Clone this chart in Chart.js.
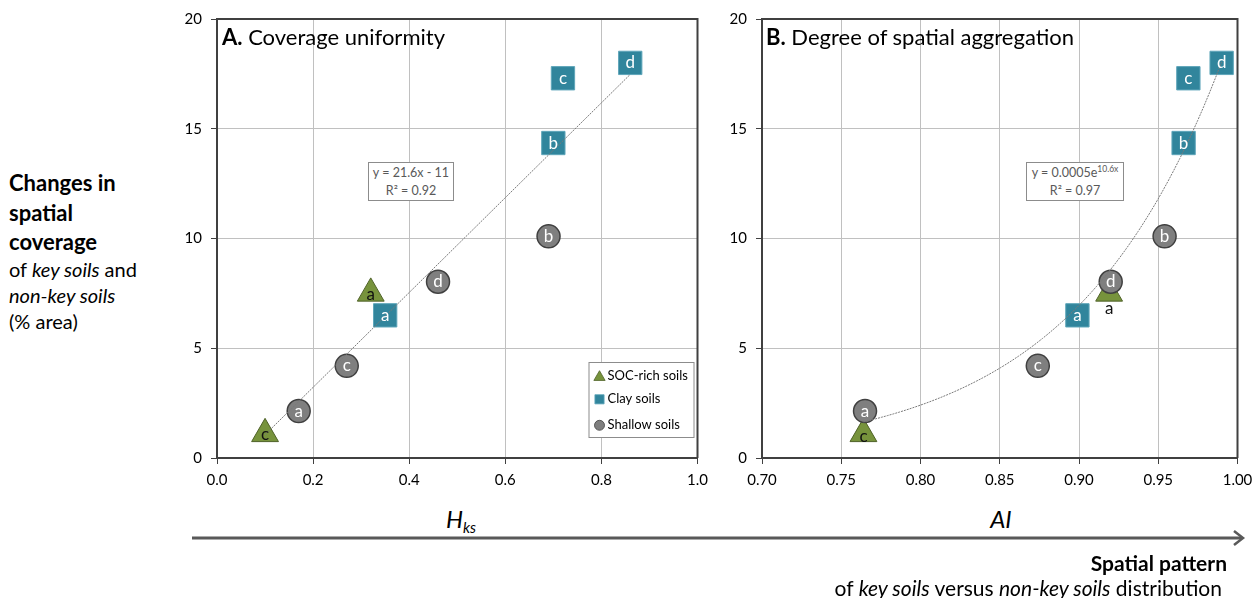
<!DOCTYPE html>
<html>
<head>
<meta charset="utf-8">
<script src="https://cdn.jsdelivr.net/npm/chart.js@4.4.0/dist/chart.umd.min.js"></script>
<style>
  html, body { margin: 0; padding: 0; background: #fff; }
  body { width: 1253px; height: 598px; position: relative; overflow: hidden;
         font-family: Lato, "Open Sans", sans-serif; color: #000; }
  .panel { position: absolute; top: 0; height: 500px; }
  #wrapA { left: 140px; width: 575px; }
  #wrapB { left: 690px; width: 565px; }
  .txt { position: absolute; white-space: nowrap; z-index: 2; }
  .side { left: 9px; height: 28px; line-height: 28px; }
  .side.b { font-weight: 700; font-size: 22px; }
  .side.r { font-size: 20px; }
  .ttl { top: 23px; height: 28px; line-height: 28px; font-size: 22px; }
  .eq { border: 1px solid #8c8c8c; background: #fff; color: #595959; font-size: 12.5px;
        text-align: center; line-height: 17.5px; box-sizing: border-box; padding-top: 1px; }
  .eq sup { font-size: 8.5px; vertical-align: 5px; line-height: 0; }
  .axt { top: 504px; height: 30px; line-height: 30px; font-size: 24px; font-style: italic;
         transform: translateX(-50%); }
  .axt sub { font-size: 15px; vertical-align: -5px; line-height: 0; }
  .foot { height: 26px; line-height: 26px; font-size: 21px; }
</style>
</head>
<body>
<div class="panel" id="wrapA"><canvas id="chartA"></canvas></div>
<div class="panel" id="wrapB"><canvas id="chartB"></canvas></div>

<div class="txt side b" style="top:169px">Changes in</div>
<div class="txt side b" style="top:199px">spatial</div>
<div class="txt side b" style="top:228px">coverage</div>
<div class="txt side r" style="top:255px">of <i>key soils</i> and</div>
<div class="txt side r" style="top:281px"><i>non-key soils</i></div>
<div class="txt side r" style="top:307px">(% area)</div>

<div class="txt ttl" style="left:222px"><b>A.</b> Coverage uniformity</div>
<div class="txt ttl" style="left:766px"><b>B.</b> Degree of spatial aggregation</div>

<div class="txt eq" style="left:368px; top:162px; width:86px; height:39px">y = 21.6x - 11<br>R² = 0.92</div>
<div class="txt eq" style="left:1026px; top:162px; width:98px; height:39px">y = 0.0005e<sup>10.6x</sup><br>R² = 0.97</div>

<div class="txt axt" style="left:461px">H<sub>ks</sub></div>
<div class="txt axt" style="left:1001px">AI</div>

<svg class="txt" style="left:0; top:0" width="1253" height="598">
  <line x1="192" y1="538" x2="1242" y2="538" stroke="#595959" stroke-width="3"/>
  <polyline points="1234,531 1243,538 1234,545" fill="none" stroke="#595959" stroke-width="2.5"/>
</svg>

<div class="txt foot" style="right:26px; top:550px; font-weight:700">Spatial pattern</div>
<div class="txt foot" style="right:31px; top:575px">of <i>key soils</i> versus <i>non-key soils</i> distribution</div>

<script>
// Soil groups and their labelled sites
const socLetters = ['a', 'c'];
const clayLetters = ['a', 'b', 'c', 'd'];
const shallowLetters = ['a', 'b', 'c', 'd'];

// Changes in spatial coverage (% area)
const socCoverage = [7.5, 1.1];
const clayCoverage = [6.5, 14.35, 17.3, 18.0];
const shallowCoverage = [2.14, 10.1, 4.2, 8.03];

// Coverage uniformity H_ks
const socHks = [0.32, 0.10];
const clayHks = [0.35, 0.70, 0.72, 0.86];
const shallowHks = [0.17, 0.69, 0.27, 0.46];

// Aggregation index AI
const socAI = [0.919, 0.764];
const clayAI = [0.899, 0.966, 0.969, 0.990];
const shallowAI = [0.765, 0.954, 0.874, 0.920];

// Axis ticks
const yTicks = [0, 5, 10, 15, 20];
const xTicksA = [0, 0.2, 0.4, 0.6, 0.8, 1.0];
const xLabelsA = ['0.0', '0.2', '0.4', '0.6', '0.8', '1.0'];
const xTicksB = [0.70, 0.75, 0.80, 0.85, 0.90, 0.95, 1.00];
const xLabelsB = ['0.70', '0.75', '0.80', '0.85', '0.90', '0.95', '1.00'];

// Fitted trend lines
const linSlope = 21.6, linIntercept = -1.1;
const expCoef = 0.0005, expRate = 10.6;

const seriesNames = ['SOC-rich soils', 'Clay soils', 'Shallow soils'];

Chart.defaults.font.family = 'Lato, "Open Sans", sans-serif';
Chart.defaults.color = '#000';

const pts = (xs, ys) => xs.map((x, i) => ({ x, y: ys[i] }));

const styles = {
  soc:     { pointStyle: 'triangle', pointRadius: 15.5, pointBackgroundColor: '#77933C', pointBorderColor: '#4F6228', pointBorderWidth: 1 },
  clay:    { pointStyle: 'rect',     pointRadius: 16.5, pointBackgroundColor: '#31859C', pointBorderColor: '#5FA6BA', pointBorderWidth: 1 },
  shallow: { pointStyle: 'circle',   pointRadius: 11.5, pointBackgroundColor: '#7F7F7F', pointBorderColor: '#404040', pointBorderWidth: 1.5 }
};

function trendDataset(data) {
  return { label: 'trend', data, showLine: true, pointRadius: 0, borderColor: '#7a7a7a',
           borderWidth: 1, borderDash: [2, 1], order: 0, fill: false };
}

function markerDatasets(socX, clayX, shallowX) {
  return [
    Object.assign({ label: seriesNames[0], data: pts(socX, socCoverage), letters: socLetters, letterColor: '#111', letterDy: 1, order: 2 }, styles.soc),
    Object.assign({ label: seriesNames[1], data: pts(clayX, clayCoverage), letters: clayLetters, letterColor: '#fff', letterDy: 0, order: 3 }, styles.clay),
    Object.assign({ label: seriesNames[2], data: pts(shallowX, shallowCoverage), letters: shallowLetters, letterColor: '#fff', letterDy: 0, order: 1 }, styles.shallow)
  ];
}

// Dark frame on the top and right edges of the plot area
const framePlugin = {
  id: 'frame',
  beforeDatasetsDraw(chart) {
    const { ctx, chartArea: a } = chart;
    ctx.save();
    ctx.strokeStyle = '#404040';
    ctx.lineWidth = 2;
    ctx.beginPath();
    ctx.moveTo(a.left, a.top);
    ctx.lineTo(a.right, a.top);
    ctx.lineTo(a.right, a.bottom);
    ctx.stroke();
    ctx.restore();
  }
};

// Site letters written on each marker
const letterPlugin = {
  id: 'letters',
  afterDatasetsDraw(chart, args, opts) {
    const ctx = chart.ctx;
    ctx.save();
    ctx.font = '17px Lato, "Open Sans", sans-serif';
    ctx.textAlign = 'center';
    ctx.textBaseline = 'middle';
    chart.data.datasets.forEach((ds, i) => {
      if (!ds.letters) return;
      chart.getDatasetMeta(i).data.forEach((el, j) => {
        let dy = ds.letterDy;
        let color = ds.letterColor;
        const moved = (opts.moved || []).find(m => m.series === ds.label && m.index === j);
        if (moved) { dy = moved.dy; color = moved.color; }
        ctx.fillStyle = color;
        ctx.fillText(ds.letters[j], el.x, el.y + dy);
      });
    });
    ctx.restore();
  }
};

// Boxed legend inside the lower right corner of the plot
const boxLegendPlugin = {
  id: 'boxLegend',
  afterDraw(chart, args, opts) {
    if (!opts.show) return;
    const { ctx, chartArea: a } = chart;
    const w = 105, h = 75;
    const left = a.right - 4 - w, top = a.bottom - 21 - h;
    ctx.save();
    ctx.fillStyle = '#fff';
    ctx.fillRect(left, top, w, h);
    ctx.strokeStyle = '#8c8c8c';
    ctx.lineWidth = 1;
    ctx.strokeRect(left + 0.5, top + 0.5, w, h);
    const rows = [13.7, 37.3, 63.3];
    const sizes = [6.5, 6.5, 5];
    ctx.font = '13px Lato, "Open Sans", sans-serif';
    ctx.textBaseline = 'middle';
    chart.data.datasets.filter(d => d.letters).forEach((ds, k) => {
      const y = top + rows[k];
      ctx.fillStyle = ds.pointBackgroundColor;
      ctx.strokeStyle = ds.pointBorderColor;
      ctx.lineWidth = 0.8;
      Chart.helpers.drawPoint(ctx, { pointStyle: ds.pointStyle, radius: sizes[k], borderWidth: 0.8, rotation: 0 },
        left + 11, y + (ds.pointStyle === 'triangle' ? 1.5 : 0));
      ctx.fillStyle = '#000';
      ctx.textAlign = 'left';
      ctx.fillText(ds.label, left + 19, y);
    });
    ctx.restore();
  }
};

function makeOptions(xTicks, xLabels, xMin, xMax, yWidth, rightPad, pluginOpts) {
  return {
    responsive: true,
    maintainAspectRatio: false,
    animation: false,
    events: [],
    layout: { padding: { top: 19, right: rightPad, bottom: 0, left: 0 } },
    plugins: Object.assign({ legend: { display: false }, tooltip: { enabled: false } }, pluginOpts),
    scales: {
      x: {
        type: 'linear', min: xMin, max: xMax,
        afterBuildTicks: s => { s.ticks = xTicks.map(v => ({ value: v })); },
        afterFit: s => { s.height = 42; s.paddingLeft = 0; s.paddingRight = 0; },
        ticks: { callback: (v, i) => xLabels[i], padding: 7, font: { size: 15 }, color: '#000', maxRotation: 0 },
        grid: { color: '#C0C0C0', lineWidth: 1, tickLength: 6, tickColor: '#404040' },
        border: { color: '#404040', width: 2 }
      },
      y: {
        type: 'linear', min: 0, max: 20,
        afterBuildTicks: s => { s.ticks = yTicks.map(v => ({ value: v })); },
        afterFit: s => { s.width = yWidth; s.paddingTop = 0; s.paddingBottom = 0; },
        ticks: { padding: 9, font: { size: 15 }, color: '#000' },
        grid: { color: '#C0C0C0', lineWidth: 1, tickLength: 6, tickColor: '#404040' },
        border: { color: '#404040', width: 2 }
      }
    }
  };
}

// Panel A: linear fit over the H_ks range
const allHks = socHks.concat(clayHks, shallowHks);
const hMin = Math.min(...allHks), hMax = Math.max(...allHks);
const linTrend = [hMin, hMax].map(x => ({ x, y: linSlope * x + linIntercept }));

new Chart(document.getElementById('chartA'), {
  type: 'scatter',
  data: { datasets: [trendDataset(linTrend)].concat(markerDatasets(socHks, clayHks, shallowHks)) },
  options: makeOptions(xTicksA, xLabelsA, 0, 1, 77, 13, { boxLegend: { show: true }, letters: {} }),
  plugins: [framePlugin, letterPlugin, boxLegendPlugin]
});

// Panel B: exponential fit over the AI range
const allAI = socAI.concat(clayAI, shallowAI);
const aMin = Math.min(...allAI), aMax = Math.max(...allAI);
const expTrend = [];
for (let k = 0; k <= 60; k++) {
  const x = aMin + (aMax - aMin) * k / 60;
  expTrend.push({ x, y: expCoef * Math.exp(expRate * x) });
}

new Chart(document.getElementById('chartB'), {
  type: 'scatter',
  data: { datasets: [trendDataset(expTrend)].concat(markerDatasets(socAI, clayAI, shallowAI)) },
  options: makeOptions(xTicksB, xLabelsB, 0.70, 1.00, 72, 16, {
    boxLegend: { show: false },
    letters: { moved: [{ series: seriesNames[0], index: 0, dy: 15, color: '#111' },
                       { series: seriesNames[0], index: 1, dy: 3, color: '#111' }] }
  }),
  plugins: [framePlugin, letterPlugin, boxLegendPlugin]
});
</script>
</body>
</html>
